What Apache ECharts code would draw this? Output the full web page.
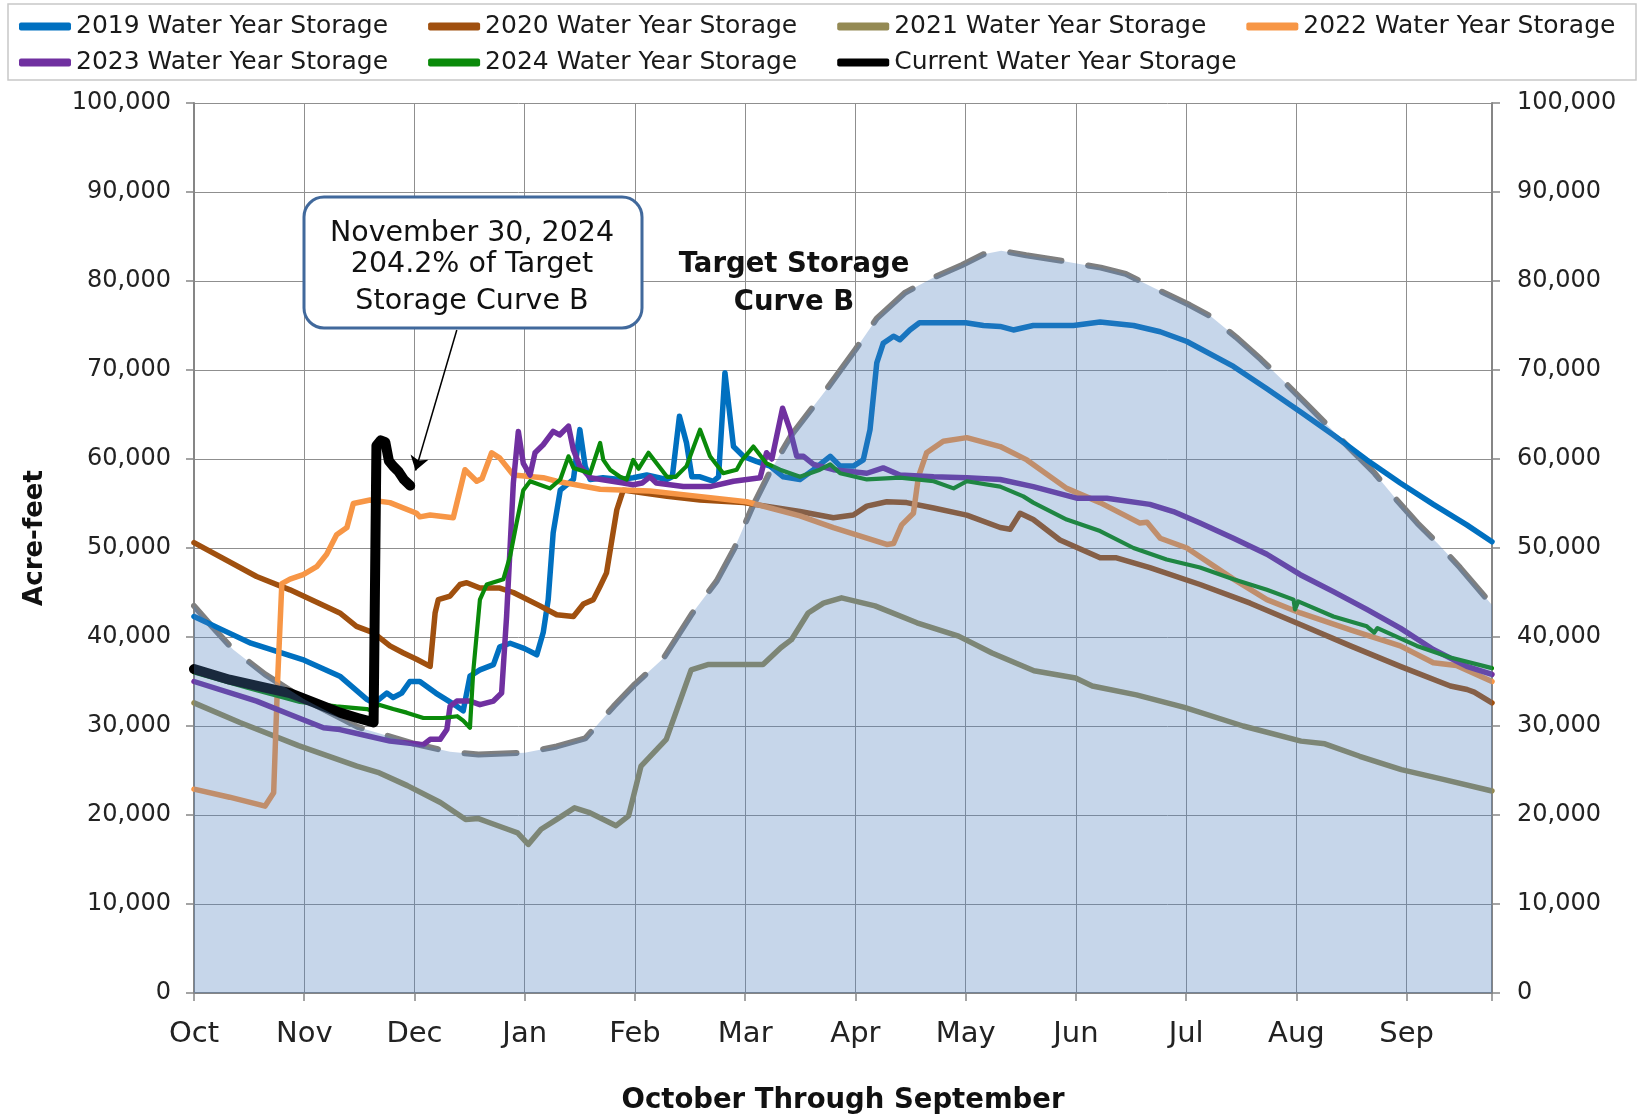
<!DOCTYPE html>
<html><head><meta charset="utf-8">
<script src="https://cdn.jsdelivr.net/npm/echarts@6/dist/echarts.min.js"></script>
<style>html,body{margin:0;padding:0;background:#fff}#c{width:1644px;height:1120px}</style>
</head><body><div id="c"></div>
<script>
// x = day of water year (0 = Oct 1), y = acre-feet
const monthLabels = ['Oct','Nov','Dec','Jan','Feb','Mar','Apr','May','Jun','Jul','Aug','Sep'];

const target = [[0,43500],[5,41200],[11,38600],[20,35800],[31,33000],[46,29900],[62,28000],[72,27100],[80,26800],[93,27000],[102,27700],[110,28600],[118,32200],[124,34700],[132,37600],[140,42600],[147,46300],[152,50000],[157,54600],[162,58600],[168,62700],[173,65300],[178,67900],[186,72300],[192,75800],[200,78700],[208,80400],[216,81800],[222,83000],[227,83400],[234,82900],[245,82200],[255,81500],[262,80800],[270,79200],[280,77300],[286,76000],[293,73700],[300,71200],[306,68900],[313,66100],[320,63300],[325,61200],[332,58400],[338,55500],[344,52800],[350,50400],[356,47800],[362,45000],[365,43600]];

const s2019 = [[0,42300],[8,40800],[16,39300],[31,37400],[41,35600],[48.6,33000],[50,32700],[51.4,32800],[54.2,33700],[56,33200],[58.4,33700],[60.7,35000],[63.5,35000],[68,33700],[74,32200],[75.7,31700],[77.6,35600],[80.4,36300],[84.2,36900],[86,38900],[88.9,39300],[93,38700],[96.4,38000],[98.2,40500],[99.6,44200],[101,51700],[103,56500],[106.7,57700],[108.5,63300],[110,59200],[111.4,57700],[115,57900],[119.8,57700],[123.5,57900],[127.3,58200],[132.9,57700],[134.5,58000],[136.5,64800],[138.5,61800],[140,58000],[142.3,58000],[146,57500],[147.5,58000],[149.3,69700],[151.7,61400],[154.5,60300],[158.3,59700],[162,59200],[165.7,58000],[170.4,57700],[174.2,58800],[178.9,60300],[181.7,59200],[185.4,59200],[188.2,59900],[190.1,63300],[192,70800],[193.8,73000],[196.7,73800],[198.5,73400],[201.3,74500],[204,75300],[210,75300],[217,75300],[222,75000],[226.7,74900],[230.4,74500],[236,75000],[247.3,75000],[254.8,75400],[264.2,75000],[271.7,74300],[279.2,73200],[292.3,70400],[301.7,67900],[311.1,65300],[320.4,62700],[329.8,59900],[339.2,57300],[348.5,54900],[357.9,52600],[365,50700]];

const s2020 = [[0,50600],[17.6,46800],[27,45300],[41,42700],[45.7,41200],[50.4,40500],[55.1,39000],[58.9,38200],[62.6,37500],[66.4,36700],[67.8,42700],[68.7,44200],[72,44600],[74.8,45900],[76.7,46100],[80.4,45500],[86,45500],[89.8,45000],[97.3,43500],[102,42500],[106.7,42300],[109.5,43700],[112.3,44200],[114.2,45700],[116,47200],[117.5,50900],[118.9,54300],[120.7,56500],[126,56200],[133,55800],[142.3,55400],[154.5,55100],[170.4,54100],[179.8,53400],[185.4,53700],[189.2,54700],[194.8,55200],[200.4,55100],[208,54500],[217.3,53700],[226.7,52300],[229.5,52100],[232.3,53900],[236,53200],[243.5,50900],[254.8,48900],[259.4,48900],[268.8,47800],[282.9,45900],[297,43800],[311.1,41400],[325.2,39000],[339.2,36700],[353.3,34500],[358,34100],[360,33800],[365,32600]];

const s2021 = [[0,32600],[12.9,30400],[29.4,27800],[45.8,25500],[51.7,24800],[60,23300],[69.3,21400],[76.4,19500],[80,19600],[82,19300],[88.2,18400],[91,18000],[94,16700],[97.6,18400],[102,19500],[107,20800],[111,20300],[118.7,18800],[122.2,19900],[125.7,25500],[132.8,28500],[139.8,36300],[144.5,36900],[160,36900],[165,38800],[168,39700],[172.7,42700],[177,43800],[182.1,44400],[191.5,43500],[203.3,41600],[215,40100],[224.4,38200],[236.2,36200],[247.9,35400],[252.6,34500],[265,33500],[278.5,32100],[295,30000],[311.3,28300],[318,28000],[327.8,26600],[339.5,25100],[351.3,24000],[365,22700]];

const s2022 = [[0,22900],[10,22000],[20,21000],[22.4,22500],[23.5,35000],[24.7,46000],[27,46500],[30.7,47000],[34.5,47900],[37.3,49300],[40.1,51500],[43,52300],[44.8,55000],[49.5,55400],[55.1,55100],[62.6,53900],[63.5,53500],[66.4,53700],[72.9,53400],[76.2,58800],[79.5,57500],[81,57800],[83.7,60700],[86,60100],[89.8,58200],[98.2,57900],[102,57500],[114.2,56600],[128.2,56400],[142,55800],[155.4,55200],[170.4,53600],[179.8,52300],[194.8,50400],[196.7,50500],[199,52600],[202.3,53900],[203.7,58000],[206,60700],[210.7,62000],[217.3,62400],[226.7,61400],[234.2,59900],[245.4,56700],[254.8,55100],[266,52800],[268,52900],[271.7,51100],[279.2,50000],[292.3,46500],[301.7,44200],[311.1,42700],[325.2,40800],[339.2,39000],[348.5,37100],[355,36800],[365,35000]];

const s2023 = [[0,35000],[17.6,32800],[27,31300],[36.4,29800],[41,29600],[48.6,28900],[55.1,28300],[64.5,27900],[66.4,28500],[69.2,28500],[71.1,29600],[72,32200],[73.9,32800],[77.6,32800],[80.4,32400],[84.2,32800],[86.5,33700],[87.9,42300],[89.8,57300],[91.2,63100],[92.6,59500],[94.5,58200],[95.9,60700],[98.2,61600],[101,63100],[102.8,62700],[105.3,63700],[106.7,61000],[108.5,59200],[111.4,57900],[120.7,57300],[123.5,57100],[126,57300],[128.2,58000],[130,57300],[137.6,56900],[145.1,56900],[151.7,57500],[159.2,57900],[161,60700],[162.5,60000],[165.5,65700],[167.6,63300],[169.5,60300],[171.4,60300],[174.2,59400],[179.8,58800],[189.2,58400],[193.8,59000],[198.5,58200],[208,58000],[217.3,57900],[226.7,57700],[236,56900],[248.2,55600],[256.7,55600],[268.8,54900],[275.4,54100],[282.9,52800],[292.3,51100],[301.7,49300],[311.1,47000],[320.4,45100],[329.8,43100],[339.2,41000],[348.5,38600],[357.9,36700],[365,35800]];

const s2024 = [[0,36000],[15,34300],[29.8,32700],[40,32200],[48.6,31900],[50,31700],[52,32400],[56,31900],[59.8,31500],[64.5,30900],[70.1,30900],[74,31100],[75.7,30600],[77.6,29800],[78.5,36000],[80.4,44200],[82.3,45900],[87,46500],[88.9,49100],[90.7,52800],[92.6,56500],[94.5,57500],[100.1,56700],[103,57700],[105.3,60300],[106.7,59000],[111.4,58400],[114.2,61800],[115.1,59900],[117,58800],[119.8,58000],[121.7,57700],[123.5,59900],[125,58900],[127.8,60700],[133,58000],[135.5,58000],[138.5,59200],[142.3,63300],[145.1,60300],[148.8,58400],[152.6,58800],[154,59800],[157.3,61400],[161,59500],[164.8,58800],[170.4,58000],[176,58800],[178.9,59400],[181.7,58400],[189.2,57700],[198.5,57900],[208,57500],[213.6,56700],[217.3,57500],[226.7,56900],[233.2,55800],[236,55100],[245.4,53200],[254.8,51900],[264.2,50000],[273.5,48700],[282.9,47800],[292.3,46500],[301.7,45300],[309.2,44200],[309.6,43100],[310.5,44000],[320.4,42300],[329.8,41200],[331.9,40500],[332.8,41000],[343.9,39000],[353.3,37700],[365,36500]];

const sCurrent = [[0,36400],[10,35200],[20,34300],[27,33700],[34,32600],[41,31500],[46,30900],[50.5,30400],[51.3,61500],[52.5,62100],[53.8,61900],[54.8,59800],[56,59200],[57.5,58600],[59,57700],[60.8,57000]];

const seriesNames = ['2019 Water Year Storage','2020 Water Year Storage','2021 Water Year Storage','2022 Water Year Storage','2023 Water Year Storage','2024 Water Year Storage','Current Water Year Storage'];
const seriesColors = ['#0070C0','#A0500F','#948A54','#F79646','#7030A0','#0A8A0A','#000000'];
const seriesData = [s2019, s2020, s2021, s2022, s2023, s2024, sCurrent];
const seriesWidths = [5.5, 5.5, 5.5, 5.5, 5.5, 4.2, 10];

// annotation arrow (data space)
const arrowFrom = [73.9, 74500];
const arrowTo = [62.3, 58700];

const FONT = 'DejaVu Sans';
const chart = echarts.init(document.getElementById('c'), null, {renderer: 'canvas'});

const series = [];
series.push({
  name: 'Target Storage Curve B', type: 'line', data: target, showSymbol: false, z: 2,
  lineStyle: {color: '#7F7F7F', width: 6, type: [52, 27], cap: 'round'},
  silent: true
});
seriesNames.forEach((n, i) => {
  const s = {
    name: n, type: 'line', data: seriesData[i], showSymbol: false, z: 2,
    lineStyle: {color: seriesColors[i], width: seriesWidths[i], join: 'round', cap: 'round'},
    itemStyle: {color: seriesColors[i]}
  };
  if (i === 6) {
    s.markLine = {
      silent: true, animation: false, symbol: ['none', 'arrow'], symbolSize: 14,
      lineStyle: {color: '#000', width: 1.5, type: 'solid'},
      label: {show: false},
      data: [[{coord: arrowFrom}, {coord: arrowTo}]]
    };
  }
  series.push(s);
});
series.push({
  name: 'Target fill', type: 'line', data: target, showSymbol: false, z: 5, silent: true,
  lineStyle: {width: 0, opacity: 0},
  areaStyle: {color: 'rgba(79,129,189,0.32)', opacity: 1, origin: 'start'}
});

const fmtY = v => v.toLocaleString('en-US');
const makeLegend = (top, names) => ({
  top: top, data: names, left: 19, width: 1640, padding: 0,
  itemWidth: 52, itemHeight: 8, itemGap: 40, icon: 'roundRect',
  textStyle: {fontFamily: FONT, fontSize: 25, color: '#1a1a1a'}
});

chart.setOption({
  animation: false,
  backgroundColor: '#fff',
  grid: {left: 194, right: 152, top: 103, bottom: 126, containLabel: false},
  legend: [makeLegend(14, seriesNames.slice(0, 4)), makeLegend(50, seriesNames.slice(4))],
  xAxis: {
    type: 'value', min: 0, max: 365, interval: 31,
    name: 'October Through September', nameLocation: 'middle', nameGap: 94,
    nameTextStyle: {fontFamily: FONT, fontSize: 27.5, fontWeight: 'bold', color: '#111'},
    axisLine: {show: true, lineStyle: {color: '#868686', width: 2}},
    axisTick: {show: true, length: 8, lineStyle: {color: '#868686', width: 1.5}},
    axisLabel: {
      fontFamily: FONT, fontSize: 29, color: '#222', margin: 27,
      formatter: v => { const i = Math.round(v / 31); return (Math.abs(v - i * 31) < 0.01 && monthLabels[i]) ? monthLabels[i] : ''; }
    },
    splitLine: {show: true, lineStyle: {color: '#8f8f8f', width: 1}}
  },
  yAxis: [{
    type: 'value', min: 0, max: 100000, interval: 10000, position: 'left',
    axisLine: {show: true, lineStyle: {color: '#868686', width: 2}},
    axisTick: {show: true, length: 8, lineStyle: {color: '#868686', width: 1.5}},
    axisLabel: {fontFamily: FONT, fontSize: 24, color: '#222', margin: 23, formatter: fmtY},
    splitLine: {show: true, lineStyle: {color: '#8f8f8f', width: 1}}
  }, {
    type: 'value', min: 0, max: 100000, interval: 10000, position: 'right',
    axisLine: {show: true, lineStyle: {color: '#868686', width: 2}},
    axisTick: {show: true, length: 8, lineStyle: {color: '#868686', width: 1.5}},
    axisLabel: {fontFamily: FONT, fontSize: 24, color: '#222', margin: 25, formatter: fmtY},
    splitLine: {show: false}
  }],
  graphic: [
    {type: 'rect', z: 100, shape: {x: 8, y: 4, width: 1628, height: 76}, style: {fill: 'none', stroke: '#c8c8c8', lineWidth: 1.5}},
    {type: 'text', z: 100, x: 35, y: 538, rotation: Math.PI / 2, style: {x: 0, y: 0, text: 'Acre-feet', font: 'bold 26px "DejaVu Sans"', fill: '#111', textAlign: 'center', textVerticalAlign: 'middle'}},
    {type: 'rect', z: 100, shape: {x: 304, y: 197, width: 338, height: 131, r: 20}, style: {fill: '#fff', stroke: '#41699C', lineWidth: 3}},
    {type: 'text', z: 101, style: {x: 472, y: 234, text: 'November 30, 2024', font: '28.5px "DejaVu Sans"', fill: '#111', textAlign: 'center', textVerticalAlign: 'middle'}},
    {type: 'text', z: 101, style: {x: 472, y: 265, text: '204.2% of Target', font: '28.5px "DejaVu Sans"', fill: '#111', textAlign: 'center', textVerticalAlign: 'middle'}},
    {type: 'text', z: 101, style: {x: 472, y: 302, text: 'Storage Curve B', font: '28.5px "DejaVu Sans"', fill: '#111', textAlign: 'center', textVerticalAlign: 'middle'}},
    {type: 'text', z: 101, style: {x: 794, y: 265, text: 'Target Storage', font: 'bold 27.5px "DejaVu Sans"', fill: '#111', textAlign: 'center', textVerticalAlign: 'middle'}},
    {type: 'text', z: 101, style: {x: 794, y: 303, text: 'Curve B', font: 'bold 27.5px "DejaVu Sans"', fill: '#111', textAlign: 'center', textVerticalAlign: 'middle'}}
  ],
  series: series
});
</script></body></html>
